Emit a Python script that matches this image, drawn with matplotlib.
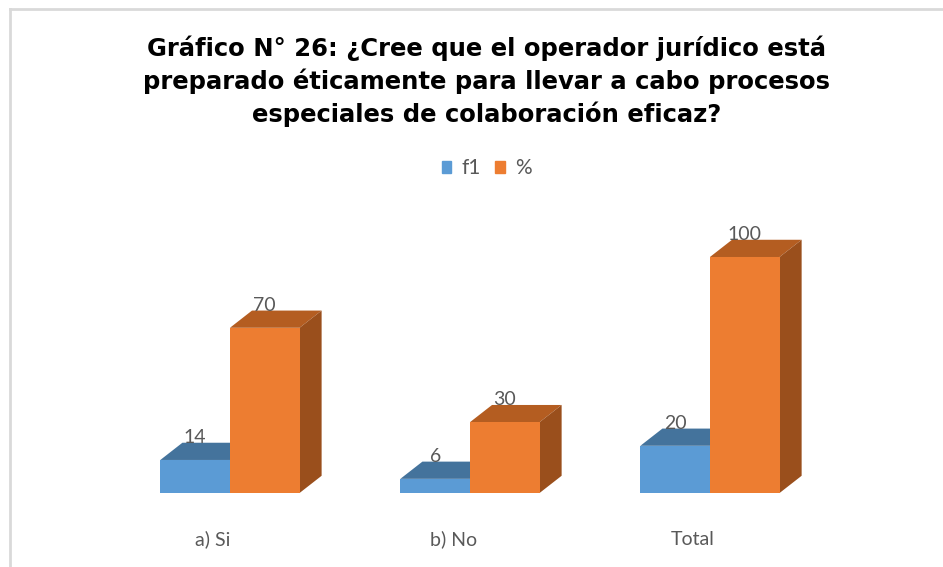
import numpy as np
import matplotlib
matplotlib.use("Agg")
import matplotlib.pyplot as plt
from matplotlib.patches import Polygon, Rectangle
from matplotlib.lines import Line2D

categories = ["a) Si", "b) No", "Total"]
f1_values = [14, 6, 20]
pct_values = [70, 30, 100]
series_names = ["f1", "%"]
title = ("Gráfico N° 26: ¿Cree que el operador jurídico está\n"
         "preparado éticamente para llevar a cabo procesos\n"
         "especiales de colaboración eficaz?")

# colours: front, top, side
blue = ("#5B9BD5", "#44739C", "#3D6A94")
orange = ("#ED7D31", "#B45D21", "#9A4F1C")

bar_w = 0.29      # width of one bar (category units)
dx, dy = 0.092, 7.3  # 3d depth offset
label_shift = 0.07

fig = plt.figure(figsize=(9.43, 5.67), dpi=100)
ax = fig.add_axes([0, 0.1305, 1, 0.4995])
ax.set_xlim(-0.958, 2.971)
ax.set_ylim(0, 120)
for s in ax.spines.values():
    s.set_visible(False)
ax.set_yticks([])


def bar3d(x0, h, cols, z):
    front, top, side = cols
    ax.add_patch(Polygon([(x0, h), (x0 + bar_w, h), (x0 + bar_w + dx, h + dy), (x0 + dx, h + dy)],
                         closed=True, facecolor=top, edgecolor="none", zorder=z))
    ax.add_patch(Polygon([(x0 + bar_w, 0), (x0 + bar_w + dx, dy), (x0 + bar_w + dx, h + dy), (x0 + bar_w, h)],
                         closed=True, facecolor=side, edgecolor="none", zorder=z))
    ax.bar(x0, h, bar_w, align="edge", color=front, linewidth=0, zorder=z + 1)
    ax.text(x0 + bar_w / 2, h + dy, str(h), ha="center", va="baseline",
            fontsize=14, color="#595959", family="Lato", zorder=z + 2)


x = np.arange(len(categories))
for i in range(len(categories)):
    bar3d(x[i] - bar_w, f1_values[i], blue, 2 + i * 10)
    bar3d(x[i], pct_values[i], orange, 5 + i * 10)

ax.set_xticks(x - label_shift, categories)
ax.tick_params(axis="x", length=0, pad=27, labelsize=14, labelcolor="#595959")
for t in ax.get_xticklabels():
    t.set_family("Lato")

fig.text(0.516, 0.857, title, ha="center", va="center", fontsize=17.5,
         fontweight="bold", family="DejaVu Sans", linespacing=1.36)

handles = [Rectangle((0, 0), 1, 1, color=blue[0]), Rectangle((0, 0), 1, 1, color=orange[0])]
leg = fig.legend(handles, series_names, loc="center", bbox_to_anchor=(0.516, 0.703), ncol=2,
                 frameon=False, handlelength=0.45, handleheight=0.45, handletextpad=0.5,
                 columnspacing=0.7, prop={"family": "Lato", "size": 15})
for t in leg.get_texts():
    t.set_color("#595959")

# outer chart border (top and left visible)
fig.add_artist(Line2D([0.0105, 0.0105], [0, 0.984], color="#D9D9D9", lw=2))
fig.add_artist(Line2D([0.0105, 1.0], [0.984, 0.984], color="#D9D9D9", lw=2))

fig.savefig("out.png", dpi=100)
